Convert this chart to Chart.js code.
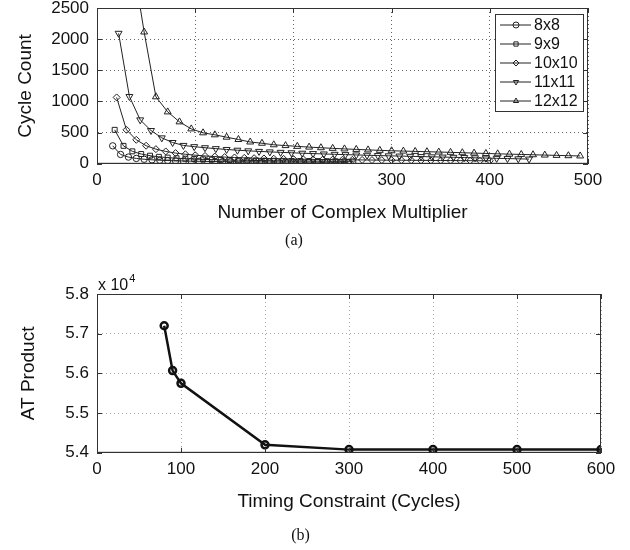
<!DOCTYPE html>
<html>
<head>
<meta charset="utf-8">
<script src="https://cdn.jsdelivr.net/npm/chart.js@4.4.1/dist/chart.umd.min.js"></script>
<style>
  html, body { margin: 0; padding: 0; background: #fff; }
  #wrap { position: relative; width: 630px; height: 550px; }
  .panel { position: absolute; left: 0; width: 630px; }
  #panelA { top: 0; height: 252px; }
  #panelB { top: 270px; height: 280px; }
</style>
</head>
<body>
<div id="wrap">
  <div class="panel" id="panelA"><canvas id="chartA" width="630" height="252"></canvas></div>
  <div class="panel" id="panelB"><canvas id="chartB" width="630" height="280"></canvas></div>
</div>
<script>
// (a) cycle count vs number of complex multipliers
const mult8 = [16, 24, 32, 40, 48, 56, 64, 72, 80, 88, 96, 104, 112, 120, 128, 136, 144, 152, 160, 168, 176, 184, 192, 200, 208, 216, 224, 232, 240, 248, 256];
const cycles8 = [288, 150, 108, 86, 73, 64, 57, 52, 48, 45, 42, 40, 38, 36, 35, 34, 33, 32, 31, 30, 29, 29, 28, 27, 27, 26, 26, 25, 25, 24, 24];

const mult9 = [18, 27, 36, 45, 54, 63, 72, 81, 90, 99, 108, 117, 126, 135, 144, 153, 162, 171, 180, 189, 198, 207, 216, 225, 234, 243, 252, 261];
const cycles9 = [545, 288, 200, 157, 130, 112, 99, 89, 82, 76, 71, 67, 63, 60, 57, 55, 53, 51, 49, 48, 46, 45, 44, 43, 42, 41, 40, 39];

const mult10 = [20, 30, 40, 50, 60, 70, 80, 90, 100, 110, 120, 130, 140, 150, 160, 170, 180, 190, 200, 210, 220, 230, 240, 250, 260, 270, 280, 290, 300, 310, 320, 330, 340, 350, 360, 370, 380, 390, 400];
const cycles10 = [1065, 545, 385, 290, 235, 198, 172, 153, 138, 126, 116, 108, 101, 95, 90, 86, 82, 79, 76, 73, 71, 69, 67, 65, 63, 62, 60, 59, 58, 57, 56, 55, 54, 53, 52, 51, 50, 49, 48];

const mult11 = [22, 33, 44, 55, 66, 77, 88, 99, 110, 121, 132, 143, 154, 165, 176, 187, 198, 209, 220, 231, 242, 253, 264, 275, 286, 297, 308, 319, 330, 341, 352, 363, 374, 385, 396, 407, 418, 429, 440];
const cycles11 = [2094, 1080, 705, 534, 416, 342, 295, 275, 258, 243, 230, 218, 208, 199, 191, 184, 177, 170, 164, 158, 152, 147, 142, 137, 132, 128, 124, 120, 116, 112, 108, 104, 100, 96, 92, 88, 84, 80, 76];

const mult12 = [36, 48, 60, 72, 84, 96, 108, 120, 132, 144, 156, 168, 180, 192, 204, 216, 228, 240, 252, 264, 276, 288, 300, 312, 324, 336, 348, 360, 372, 384, 396, 408, 420, 432, 444, 456, 468, 480, 492];
const cycles12 = [3300, 2115, 1075, 833, 673, 560, 497, 465, 427, 390, 350, 330, 305, 292, 280, 268, 258, 248, 239, 231, 223, 216, 209, 204, 199, 194, 189, 184, 178, 172, 166, 160, 155, 150, 145, 140, 135, 130, 126];

const seriesNames = ['8x8', '9x9', '10x10', '11x11', '12x12'];

// (b) AT product vs timing constraint
const timing = [80, 90, 100, 200, 300, 400, 500, 600];
const atProduct = [57200, 56070, 55750, 54200, 54080, 54080, 54080, 54080];

const FONT = 'Liberation Sans, Arial, Helvetica, sans-serif';
const SERIF = 'Liberation Serif, Times New Roman, serif';
const INK = '#111';

function toPoints(xs, ys) {
    return xs.map((x, i) => ({ x: x, y: ys[i] }));
}

// MATLAB style box with inward ticks
const frameBox = {
    id: 'frameBox',
    afterDraw(chart) {
        const { ctx, chartArea: a, scales } = chart;
        ctx.save();
        ctx.strokeStyle = '#333';
        ctx.lineWidth = 1;
        ctx.strokeRect(a.left + 0.5, a.top + 0.5, a.right - a.left - 1, a.bottom - a.top - 1);
        ctx.beginPath();
        scales.x.ticks.forEach(t => {
            const px = Math.round(scales.x.getPixelForValue(t.value)) + 0.5;
            ctx.moveTo(px, a.bottom); ctx.lineTo(px, a.bottom - 5);
            ctx.moveTo(px, a.top); ctx.lineTo(px, a.top + 5);
        });
        scales.y.ticks.forEach(t => {
            const py = Math.round(scales.y.getPixelForValue(t.value)) + 0.5;
            ctx.moveTo(a.left, py); ctx.lineTo(a.left + 5, py);
            ctx.moveTo(a.right, py); ctx.lineTo(a.right - 5, py);
        });
        ctx.stroke();
        ctx.restore();
    }
};

// boxed legend in the upper right corner of panel (a)
const boxLegend = {
    id: 'boxLegend',
    afterDraw(chart) {
        const { ctx, chartArea: a } = chart;
        const w = 88, rowH = 19;
        const sets = chart.data.datasets;
        const h = rowH * sets.length + 2;
        const left = a.right - w - 5, top = a.top + 6;
        ctx.save();
        ctx.fillStyle = '#fff';
        ctx.fillRect(left, top, w, h);
        ctx.strokeStyle = '#333';
        ctx.lineWidth = 1;
        ctx.strokeRect(left + 0.5, top + 0.5, w, h);
        ctx.font = '16px ' + FONT;
        ctx.textBaseline = 'middle';
        sets.forEach((ds, i) => {
            const y = top + 11 + i * rowH;
            ctx.strokeStyle = ds.borderColor;
            ctx.lineWidth = 1;
            ctx.beginPath();
            ctx.moveTo(left + 5, y); ctx.lineTo(left + 36, y);
            ctx.stroke();
            ctx.fillStyle = 'rgba(0,0,0,0)';
            Chart.helpers.drawPoint(ctx, {
                pointStyle: ds.pointStyle,
                rotation: ds.pointRotation || 0,
                radius: 3,
                borderWidth: 1
            }, left + 21, y);
            ctx.fillStyle = INK;
            ctx.fillText(ds.label, left + 39, y + 1);
        });
        ctx.restore();
    }
};

// "x 10^4" exponent label above panel (b)
const exponentLabel = {
    id: 'exponentLabel',
    afterDraw(chart) {
        const { ctx, chartArea: a } = chart;
        ctx.save();
        ctx.fillStyle = INK;
        ctx.textBaseline = 'alphabetic';
        ctx.font = '16px ' + FONT;
        ctx.fillText('x 10', a.left + 1, a.top - 4);
        const w = ctx.measureText('x 10').width;
        ctx.font = '11px ' + FONT;
        ctx.fillText('4', a.left + 2 + w, a.top - 12);
        ctx.restore();
    }
};

const markerStyles = [
    { pointStyle: 'circle', radius: 3.2, rotation: 0 },
    { pointStyle: 'rect', radius: 3.5, rotation: 0 },
    { pointStyle: 'rectRot', radius: 3.5, rotation: 0 },
    { pointStyle: 'triangle', radius: 4, rotation: 180 },
    { pointStyle: 'triangle', radius: 4, rotation: 0 }
];

const multArrays = [mult8, mult9, mult10, mult11, mult12];
const cycleArrays = [cycles8, cycles9, cycles10, cycles11, cycles12];

const datasetsA = seriesNames.map((name, i) => ({
    label: name,
    data: toPoints(multArrays[i], cycleArrays[i]),
    borderColor: '#222',
    borderWidth: 1,
    backgroundColor: 'rgba(0,0,0,0)',
    pointStyle: markerStyles[i].pointStyle,
    pointRotation: markerStyles[i].rotation,
    pointRadius: markerStyles[i].radius,
    pointBorderWidth: 1,
    pointBackgroundColor: 'rgba(0,0,0,0)',
    pointBorderColor: '#222',
    tension: 0
}));

function axisTitle(text, pad) {
    return { display: true, text: text, color: INK, padding: pad, font: { family: FONT, size: 19 } };
}

const tickFont = { family: FONT, size: 17 };
const plainTick = v => String(v);

// fixed axis width, no extra room for the overhanging end labels
function fitY(s) {
    s.width = 97;
    s.paddingTop = 0;
    s.paddingBottom = 0;
}

new Chart(document.getElementById('chartA'), {
    type: 'line',
    data: { datasets: datasetsA },
    options: {
        responsive: false,
        animation: false,
        layout: { padding: { top: 8, right: 42, left: 0, bottom: 2 } },
        plugins: {
            legend: { display: false },
            tooltip: { enabled: false },
            title: {
                display: true,
                text: '(a)',
                position: 'bottom',
                color: INK,
                padding: 0,
                font: { family: SERIF, size: 16, weight: 'normal' }
            }
        },
        scales: {
            x: {
                type: 'linear',
                min: 0, max: 500,
                afterFit: s => { s.height = 67; },
                ticks: { stepSize: 100, color: INK, padding: 6, maxRotation: 0, font: tickFont, callback: plainTick },
                grid: { color: '#666', drawTicks: false },
                border: { display: true, color: '#333', dash: [1, 3] },
                title: axisTitle('Number of Complex Multiplier', { top: 0, bottom: 7 })
            },
            y: {
                min: 0, max: 2500,
                afterFit: fitY,
                ticks: { stepSize: 500, color: INK, padding: 8, font: tickFont, callback: plainTick },
                grid: { color: '#666', drawTicks: false },
                border: { display: true, color: '#333', dash: [1, 3] },
                title: axisTitle('Cycle Count', { top: 14, bottom: 0 })
            }
        }
    },
    plugins: [frameBox, boxLegend]
});

new Chart(document.getElementById('chartB'), {
    type: 'line',
    data: {
        datasets: [{
            label: 'AT Product',
            data: toPoints(timing, atProduct),
            borderColor: '#111',
            borderWidth: 2.5,
            pointStyle: 'circle',
            pointRadius: 3.5,
            pointBorderWidth: 2.5,
            pointBackgroundColor: 'rgba(0,0,0,0)',
            pointBorderColor: '#111',
            tension: 0
        }]
    },
    options: {
        responsive: false,
        animation: false,
        layout: { padding: { top: 24, right: 29, left: 0, bottom: 5 } },
        plugins: {
            legend: { display: false },
            tooltip: { enabled: false },
            title: {
                display: true,
                text: '(b)',
                position: 'bottom',
                color: INK,
                padding: 0,
                font: { family: SERIF, size: 16, weight: 'normal' }
            }
        },
        scales: {
            x: {
                type: 'linear',
                min: 0, max: 600,
                afterFit: s => { s.height = 73; },
                ticks: { stepSize: 100, color: INK, padding: 6, maxRotation: 0, font: tickFont, callback: plainTick },
                grid: { color: '#aaa', drawTicks: false },
                border: { display: true, color: '#333', dash: [1, 3] },
                title: axisTitle('Timing Constraint (Cycles)', { top: 0, bottom: 13 })
            },
            y: {
                min: 54000, max: 58000,
                afterFit: fitY,
                ticks: {
                    stepSize: 1000, color: INK, padding: 8, font: tickFont,
                    callback: v => (v / 10000).toFixed(1)
                },
                grid: { color: '#aaa', drawTicks: false },
                border: { display: true, color: '#333', dash: [1, 3] },
                title: axisTitle('AT Product', { top: 17, bottom: 0 })
            }
        }
    },
    plugins: [frameBox, exponentLabel]
});
</script>
</body>
</html>
